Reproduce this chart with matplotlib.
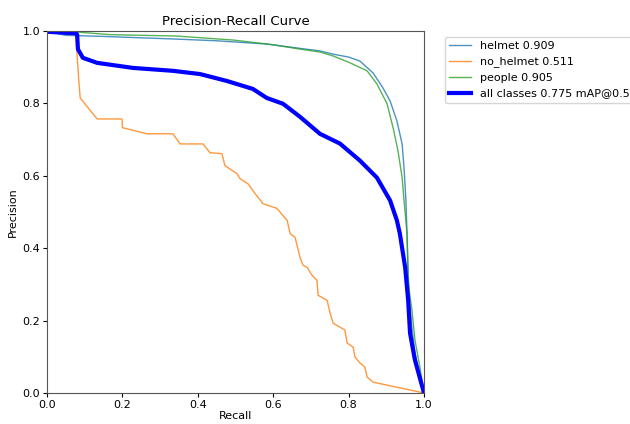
import numpy as np
import matplotlib.pyplot as plt

# recall / precision points
helmet_r = [0.0, 0.02, 0.05, 0.15, 0.334, 0.45, 0.583, 0.671, 0.724, 0.759, 0.80, 0.83, 0.865,
            0.891, 0.91, 0.928, 0.942, 0.947, 0.952, 0.955, 0.958, 0.962, 0.968, 0.976, 0.988, 1.0]
helmet_p = [0.997, 0.995, 0.988, 0.985, 0.978, 0.973, 0.964, 0.952, 0.945, 0.936, 0.928, 0.917, 0.884,
            0.843, 0.807, 0.752, 0.688, 0.623, 0.532, 0.44, 0.33, 0.25, 0.18, 0.11, 0.05, 0.0]

nohelmet_r = [0.0, 0.077, 0.08, 0.084, 0.088, 0.109, 0.133, 0.199, 0.2, 0.265, 0.334, 0.353, 0.414,
              0.432, 0.464, 0.472, 0.504, 0.512, 0.533, 0.552, 0.573, 0.61, 0.626, 0.637, 0.645,
              0.658, 0.671, 0.679, 0.69, 0.703, 0.716, 0.719, 0.743, 0.751, 0.759, 0.777, 0.79,
              0.796, 0.812, 0.817, 0.83, 0.843, 0.849, 0.865, 1.0]
nohelmet_p = [1.0, 0.995, 0.93, 0.868, 0.815, 0.788, 0.757, 0.757, 0.733, 0.716, 0.716, 0.688, 0.688,
              0.664, 0.661, 0.628, 0.606, 0.592, 0.578, 0.551, 0.523, 0.51, 0.49, 0.477, 0.44,
              0.43, 0.375, 0.353, 0.347, 0.325, 0.311, 0.27, 0.256, 0.22, 0.193, 0.182, 0.174,
              0.138, 0.127, 0.099, 0.083, 0.072, 0.044, 0.03, 0.0]

people_r = [0.0, 0.08, 0.167, 0.345, 0.494, 0.6, 0.671, 0.724, 0.759, 0.804, 0.849, 0.875, 0.902,
            0.918, 0.931, 0.942, 0.947, 0.955, 0.958, 0.968, 0.976, 0.989, 1.0]
people_p = [0.998, 0.997, 0.99, 0.986, 0.975, 0.962, 0.95, 0.942, 0.931, 0.912, 0.89, 0.854, 0.799,
            0.733, 0.669, 0.595, 0.532, 0.44, 0.303, 0.229, 0.146, 0.072, 0.0]

all_r = [0.0, 0.05, 0.077, 0.08, 0.082, 0.095, 0.133, 0.228, 0.334, 0.406, 0.477, 0.546, 0.583,
         0.626, 0.671, 0.724, 0.777, 0.83, 0.875, 0.91, 0.928, 0.936, 0.95, 0.958, 0.963, 0.976, 1.0]
all_p = [0.998, 0.995, 0.994, 0.99, 0.95, 0.926, 0.912, 0.898, 0.89, 0.881, 0.862, 0.84, 0.815,
         0.799, 0.763, 0.716, 0.689, 0.642, 0.595, 0.532, 0.477, 0.44, 0.347, 0.256, 0.165, 0.091, 0.0]

labels = ['helmet 0.909', 'no_helmet 0.511', 'people 0.905', 'all classes 0.775 mAP@0.5']

fig = plt.figure(figsize=(6.3, 4.24), dpi=100)
ax = fig.add_axes([47 / 630, 31 / 424, 377 / 630, 362 / 424])

ax.plot(helmet_r, helmet_p, color='#1f77b4', linewidth=1, label=labels[0], alpha=0.8)
ax.plot(nohelmet_r, nohelmet_p, color='#ff7f0e', linewidth=1, label=labels[1], alpha=0.8)
ax.plot(people_r, people_p, color='#2ca02c', linewidth=1, label=labels[2], alpha=0.8)
ax.plot(all_r, all_p, color='blue', linewidth=3, label=labels[3])

ax.set_xlim(0, 1)
ax.set_ylim(0, 1)
ax.set_xlabel('Recall', fontsize=8, labelpad=1)
ax.set_ylabel('Precision', fontsize=8, labelpad=3)
ax.set_title('Precision-Recall Curve', fontsize=9.5, pad=4)
ax.tick_params(labelsize=8, length=3, pad=2)
for s in ax.spines.values():
    s.set_color('#555555')
ax.legend(bbox_to_anchor=(1.04, 1.0), loc='upper left', fontsize=8)

fig.savefig('out.png', dpi=100)
